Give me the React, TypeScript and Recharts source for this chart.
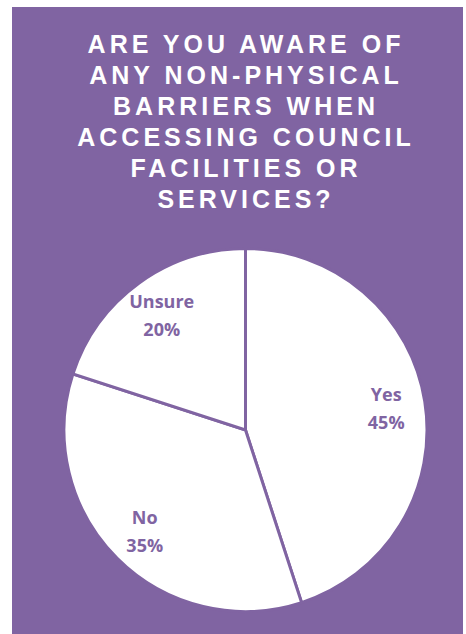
import React from "react";
import { PieChart, Pie, Cell } from "recharts";

const categories = ["Yes", "No", "Unsure"];
const values = [45, 35, 20];
const titleLines = [
  "ARE YOU AWARE OF",
  "ANY NON-PHYSICAL",
  "BARRIERS WHEN",
  "ACCESSING COUNCIL",
  "FACILITIES OR",
  "SERVICES?",
];

const PURPLE = "#8064A2";
const data = categories.map((name, i) => ({ name, value: values[i] }));

const RADIAN = Math.PI / 180;

const renderLabel = (props: any) => {
  const { cx, cy, midAngle, outerRadius, name, value } = props;
  const r = outerRadius * 0.785;
  const x = cx + r * Math.cos(-midAngle * RADIAN);
  const y = cy + r * Math.sin(-midAngle * RADIAN);
  return (
    <text
      x={x}
      y={y}
      textAnchor="middle"
      fill={PURPLE}
      fontFamily="'Open Sans', sans-serif"
      fontWeight={700}
      fontSize={18}
    >
      <tspan x={x} y={y - 7}>
        {name}
      </tspan>
      <tspan x={x} y={y + 21}>
        {value}%
      </tspan>
    </text>
  );
};

export default function App() {
  return (
    <div
      style={{
        position: "absolute",
        left: 0,
        top: 0,
        width: 466,
        height: 634,
        background: "#ffffff",
        overflow: "hidden",
      }}
    >
      <div
        style={{
          position: "absolute",
          left: 12,
          top: 7,
          width: 451,
          height: 627,
          background: PURPLE,
        }}
      />
      <div
        style={{
          position: "absolute",
          left: 0,
          top: 28.5,
          width: 492,
          textAlign: "center",
          color: "#ffffff",
          fontFamily: "'Liberation Sans', Arial, sans-serif",
          fontWeight: 700,
          fontSize: 25,
          lineHeight: "31px",
          letterSpacing: 4,
        }}
      >
        {titleLines.map((l, i) => (
          <div key={i}>{l}</div>
        ))}
      </div>
      <div style={{ position: "absolute", left: 0, top: 0 }}>
        <PieChart width={466} height={634} margin={{ top: 0, right: 0, bottom: 0, left: 0 }}>
          <Pie
            data={data}
            dataKey="value"
            nameKey="name"
            cx={245.5}
            cy={430}
            outerRadius={181.5}
            startAngle={90}
            endAngle={-270}
            stroke={PURPLE}
            strokeWidth={3}
            label={renderLabel}
            labelLine={false}
            isAnimationActive={false}
          >
            {data.map((d, i) => (
              <Cell key={i} fill="#ffffff" stroke={PURPLE} strokeWidth={3} />
            ))}
          </Pie>
        </PieChart>
      </div>
    </div>
  );
}
